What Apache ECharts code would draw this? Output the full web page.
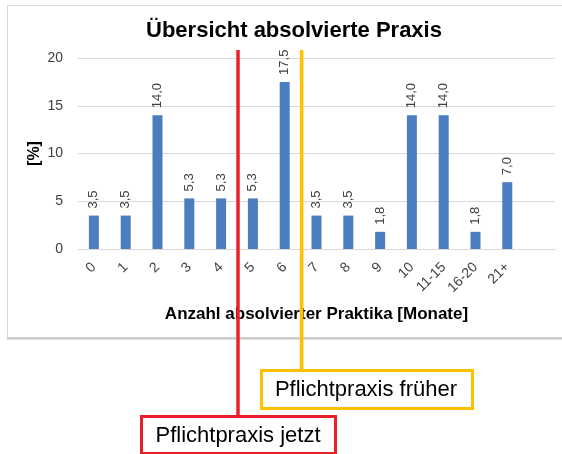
<!DOCTYPE html>
<html><head><meta charset="utf-8">
<script src="https://cdn.jsdelivr.net/npm/echarts@6/dist/echarts.min.js"></script>
<style>html,body{margin:0;padding:0;background:#fff}#c{width:562px;height:454px}</style>
</head><body><div id="c"></div>
<script>
const categories = ['0','1','2','3','4','5','6','7','8','9','10','11-15','16-20','21+',''];
const values = [3.5,3.5,14.0,5.3,5.3,5.3,17.5,3.5,3.5,1.8,14.0,14.0,1.8,7.0,null];
const yTicks = { min: 0, max: 20, interval: 5 };
const titleText = 'Übersicht absolvierte Praxis';
const xName = 'Anzahl absolvierter Praktika [Monate]';
const yName = '[%]';
const markerNow = { afterIndex: 4, label: 'Pflichtpraxis jetzt' };
const markerOld = { afterIndex: 6, label: 'Pflichtpraxis früher' };

const FONT = 'Liberation Sans, Arial, sans-serif';
const chart = echarts.init(document.getElementById('c'));
const option = {
  animation: false,
  title: { text: titleText, left: 289, textAlign: 'center', top: 15,
    textStyle: { fontFamily: FONT, fontSize: 22, fontWeight: 'bold', color: '#000' } },
  grid: { left: 78, right: 7, top: 58, bottom: 205 },
  xAxis: { type: 'category', data: categories,
    axisLine: { lineStyle: { color: '#d9d9d9' } }, axisTick: { show: false },
    axisLabel: { rotate: 45, fontFamily: FONT, fontSize: 14, color: '#404040', margin: 16, interval: 0 },
    name: xName, nameLocation: 'middle', nameGap: 57, nameMoveOverlap: false,
    nameTextStyle: { fontFamily: FONT, fontSize: 17, fontWeight: 'bold', color: '#000' } },
  yAxis: { type: 'value', min: yTicks.min, max: yTicks.max, interval: yTicks.interval,
    axisLine: { show: false }, axisTick: { show: false },
    splitLine: { lineStyle: { color: '#d9d9d9' } },
    axisLabel: { fontFamily: FONT, fontSize: 14, color: '#404040', margin: 15 },
    name: yName, nameLocation: 'middle', nameRotate: 90, nameGap: 35, nameMoveOverlap: false,
    nameTextStyle: { fontFamily: FONT, fontSize: 16, fontWeight: 'bold', color: '#000' } },
  series: [{ type: 'bar', data: values, barWidth: 10,
    itemStyle: { color: '#4A7EBF' },
    label: { show: true, position: 'top', rotate: 90, align: 'left', verticalAlign: 'middle', distance: 7,
      fontFamily: FONT, fontSize: 13, color: '#404040',
      formatter: p => p.value == null ? '' : p.value.toFixed(1).replace('.', ',') } }]
};
chart.setOption(option);

function boundaryX(i) {
  const a = chart.convertToPixel({ xAxisIndex: 0 }, categories[i]);
  const b = chart.convertToPixel({ xAxisIndex: 0 }, categories[i + 1]);
  return (a + b) / 2;
}
const xr = boundaryX(markerNow.afterIndex);
const xy = boundaryX(markerOld.afterIndex);
chart.setOption({
  graphic: [
    { type: 'rect', shape: { x: 7.5, y: 5.5, width: 600, height: 332 }, style: { fill: null, stroke: '#d9d9d9', lineWidth: 1 }, z: 0 },
    { type: 'line', shape: { x1: 7, y1: 338.5, x2: 562, y2: 338.5 }, style: { stroke: '#c8c8c8', lineWidth: 2 }, z: 0 },
    { type: 'line', shape: { x1: xr + 1, y1: 50, x2: xr + 1, y2: 415 }, style: { stroke: '#E8202A', lineWidth: 3.5 }, z: 10 },
    { type: 'line', shape: { x1: xy + 1, y1: 50, x2: xy + 1, y2: 371 }, style: { stroke: '#FFC000', lineWidth: 3.5 }, z: 10 },
    { type: 'rect', shape: { x: 261.5, y: 370.5, width: 211, height: 38 }, style: { fill: '#fff', stroke: '#FFC000', lineWidth: 3 }, z: 11 },
    { type: 'text', x: 366, y: 390, style: { text: markerOld.label, font: '22px ' + FONT, fill: '#000', textAlign: 'center', textVerticalAlign: 'middle' }, z: 12 },
    { type: 'rect', shape: { x: 141.5, y: 416.5, width: 194, height: 37 }, style: { fill: '#fff', stroke: '#E8202A', lineWidth: 3 }, z: 11 },
    { type: 'text', x: 238, y: 436, style: { text: markerNow.label, font: '22px ' + FONT, fill: '#000', textAlign: 'center', textVerticalAlign: 'middle' }, z: 12 }
  ]
});
</script></body></html>
